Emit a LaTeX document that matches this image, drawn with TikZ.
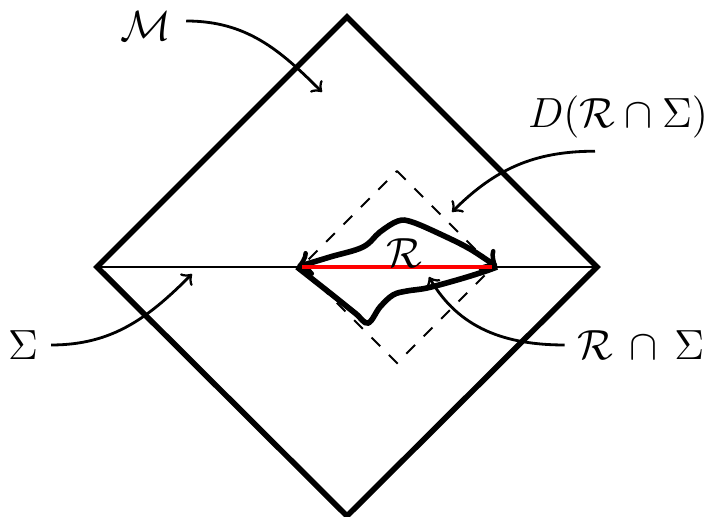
\documentclass[tikz,border=0pt]{standalone}
\usepackage{amsmath,amssymb}
\usepackage{tikz}
\usetikzlibrary{calc}

\begin{document}
\begin{tikzpicture}[
    every node/.style={font=\large},
    label arrow/.style={->, line width=0.8pt},
    thick
]
\useasboundingbox (-3.47,-2.50) rectangle (3.66,2.67);

% spacetime diamond and slice
\draw[line width=1.6pt] (0,2.5) -- (2.5,0) -- (0,-2.49) -- (-2.5,0) -- cycle;
\draw[line width=0.8pt] (-2.5,0) -- (2.5,0);

% domain of dependence
\draw[dashed, line width=0.6pt, dash pattern=on 3.5pt off 3.5pt] (0.5,0.96) -- (1.46,0) -- (0.5,-0.96) -- (-0.46,0) -- cycle;

% region R
\draw[line width=1.6pt, <->] plot[smooth, tension=0.6] coordinates {
    (-0.5,0) (-0.17,0.10) (0.16,0.20) (0.33,0.35) (0.51,0.46)
    (0.65,0.45) (0.93,0.33) (1.23,0.18) (1.5,0)};
\draw[line width=1.6pt] plot[smooth, tension=0.6] coordinates {
    (-0.5,0) (-0.17,-0.26) (0.08,-0.46) (0.21,-0.56) (0.33,-0.40)
    (0.46,-0.28) (0.60,-0.24) (0.80,-0.21) (1.10,-0.13) (1.36,-0.05) (1.5,0)};
\draw[red, line width=1pt] (-0.45,0) -- (1.45,0);

\node (R) at (0.57,0.14) {$\mathcal{R}$};
\node[inner sep=1pt] (M) at (-2.01,2.41) {$\mathcal{M}$};
\node (D) at (2.71,1.50) {$D(\mathcal{R}\cap\Sigma)$};
\node (S) at (-3.24,-0.78) {$\Sigma$};
\node (RS) at (2.94,-0.78) {$\mathcal{R}\,\cap\,\Sigma$};

\coordinate (tipM) at (-0.25,1.75);
\coordinate (tipD) at (1.05,0.55);
\coordinate (tipS) at (-1.55,-0.07);
\coordinate (tipRS) at (0.82,-0.10);

\draw[label arrow] ([xshift=1mm,yshift=0.5mm]M.east) to[out=0,in=135] (tipM);
\draw[label arrow] ([xshift=-2.3mm]D.south) to[out=180,in=45] (tipD);
\draw[label arrow] (S.east) to[out=0,in=225] (tipS);
\draw[label arrow] (RS.west) to[out=180,in=300] (tipRS);
\end{tikzpicture}
\end{document}
